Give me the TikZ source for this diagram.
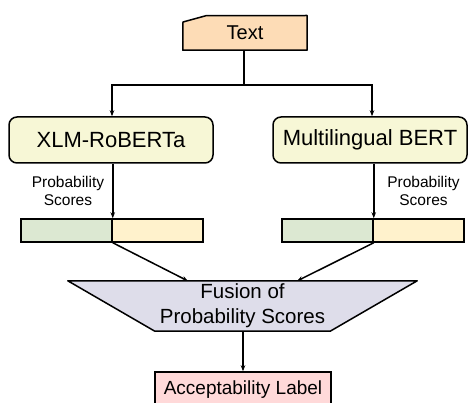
\documentclass[tikz,border=0pt]{standalone}
\usepackage{fontspec}
\setmainfont{Liberation Sans}
\usetikzlibrary{arrows.meta,calc,backgrounds}
\definecolor{peach}{HTML}{FDDCB6}
\definecolor{boxy}{HTML}{F7F7D6}
\definecolor{barg}{HTML}{DCE8D2}
\definecolor{bary}{HTML}{FFF2CC}
\definecolor{fus}{HTML}{DEDDEA}
\definecolor{acc}{HTML}{FFD9D9}
\begin{document}
\begin{tikzpicture}[x=1pt,y=-1pt,
  ln/.style={line width=1.5pt},
  arr/.style={ln,-{Stealth[length=6pt,width=4.5pt]}},
  model/.style={draw,ln,rounded corners=8pt,fill=boxy,minimum width=204pt,minimum height=46pt,inner sep=0pt,font=\fontsize{22}{26}\selectfont},
  bar/.style={draw,ln,minimum height=23pt,inner sep=0pt},
  lbl/.style={align=center,font=\fontsize{15.5}{18}\selectfont,inner sep=0pt}]
\useasboundingbox (0,0) rectangle (468,403);
% Text (manual input)
\node[minimum width=124pt,minimum height=34.3pt,inner sep=0pt,font=\fontsize{20}{24}\selectfont] (txt) at (245,32.85) {Text};
\begin{scope}[on background layer]
\draw[ln,line join=round,fill=peach] (txt.south west) -- (183,22) -- (206,15.7) -- (txt.north east) -- (txt.south east) -- cycle;
\end{scope}
% models
\node[model] (xlm) at (111,140) {XLM-RoBERTa};
\node[model,minimum width=194pt] (mb) at (370,140) {Multilingual BERT};
% split
\coordinate (split) at (244,85);
\draw[ln] (txt.south -| split) -- (split);
\draw[arr] (split) -| (xlm.north -| 112,0);
\draw[arr] (split) -| (mb.north -| 372,0);
% bars
\node[bar,fill=barg,minimum width=91pt] (g1) at (66.5,230.5) {};
\node[bar,fill=bary,minimum width=91pt] (y1) at (157.5,230.5) {};
\node[bar,fill=barg,minimum width=91pt] (g2) at (327.5,230.5) {};
\node[bar,fill=bary,minimum width=91pt] (y2) at (418.5,230.5) {};
\draw[arr] (xlm.south -| g1.north east) -- (g1.north east);
\draw[arr] (mb.south -| g2.north east) -- (g2.north east);
\node[lbl] (p1) at (68,191) {Probability\\Scores};
\node[lbl] (p2) at (423.5,191) {Probability\\Scores};
% fusion
\node[minimum width=349pt,minimum height=50pt,inner sep=0pt,align=center,font=\fontsize{20.5}{25}\selectfont] (fusion) at (242.5,306) {Fusion of\\Probability Scores};
\begin{scope}[on background layer]
\draw[ln,line join=round,fill=fus] (fusion.north west) -- (fusion.north east) -- ($(fusion.south east)+(-87,0)$) -- ($(fusion.south west)+(87,0)$) -- cycle;
\end{scope}
\coordinate (f1) at (188,281);
\coordinate (f2) at (297,281);
\draw[arr] (g1.south east) -- (f1);
\draw[arr] (g2.south east) -- (f2);
% acceptability
\node[draw,ln,fill=acc,minimum width=176pt,minimum height=36pt,inner sep=0pt,font=\fontsize{19}{22}\selectfont] (acc) at (243,390) {Acceptability Label};
\draw[arr] (fusion.south -| acc.north) -- (acc.north);
\end{tikzpicture}
\end{document}
